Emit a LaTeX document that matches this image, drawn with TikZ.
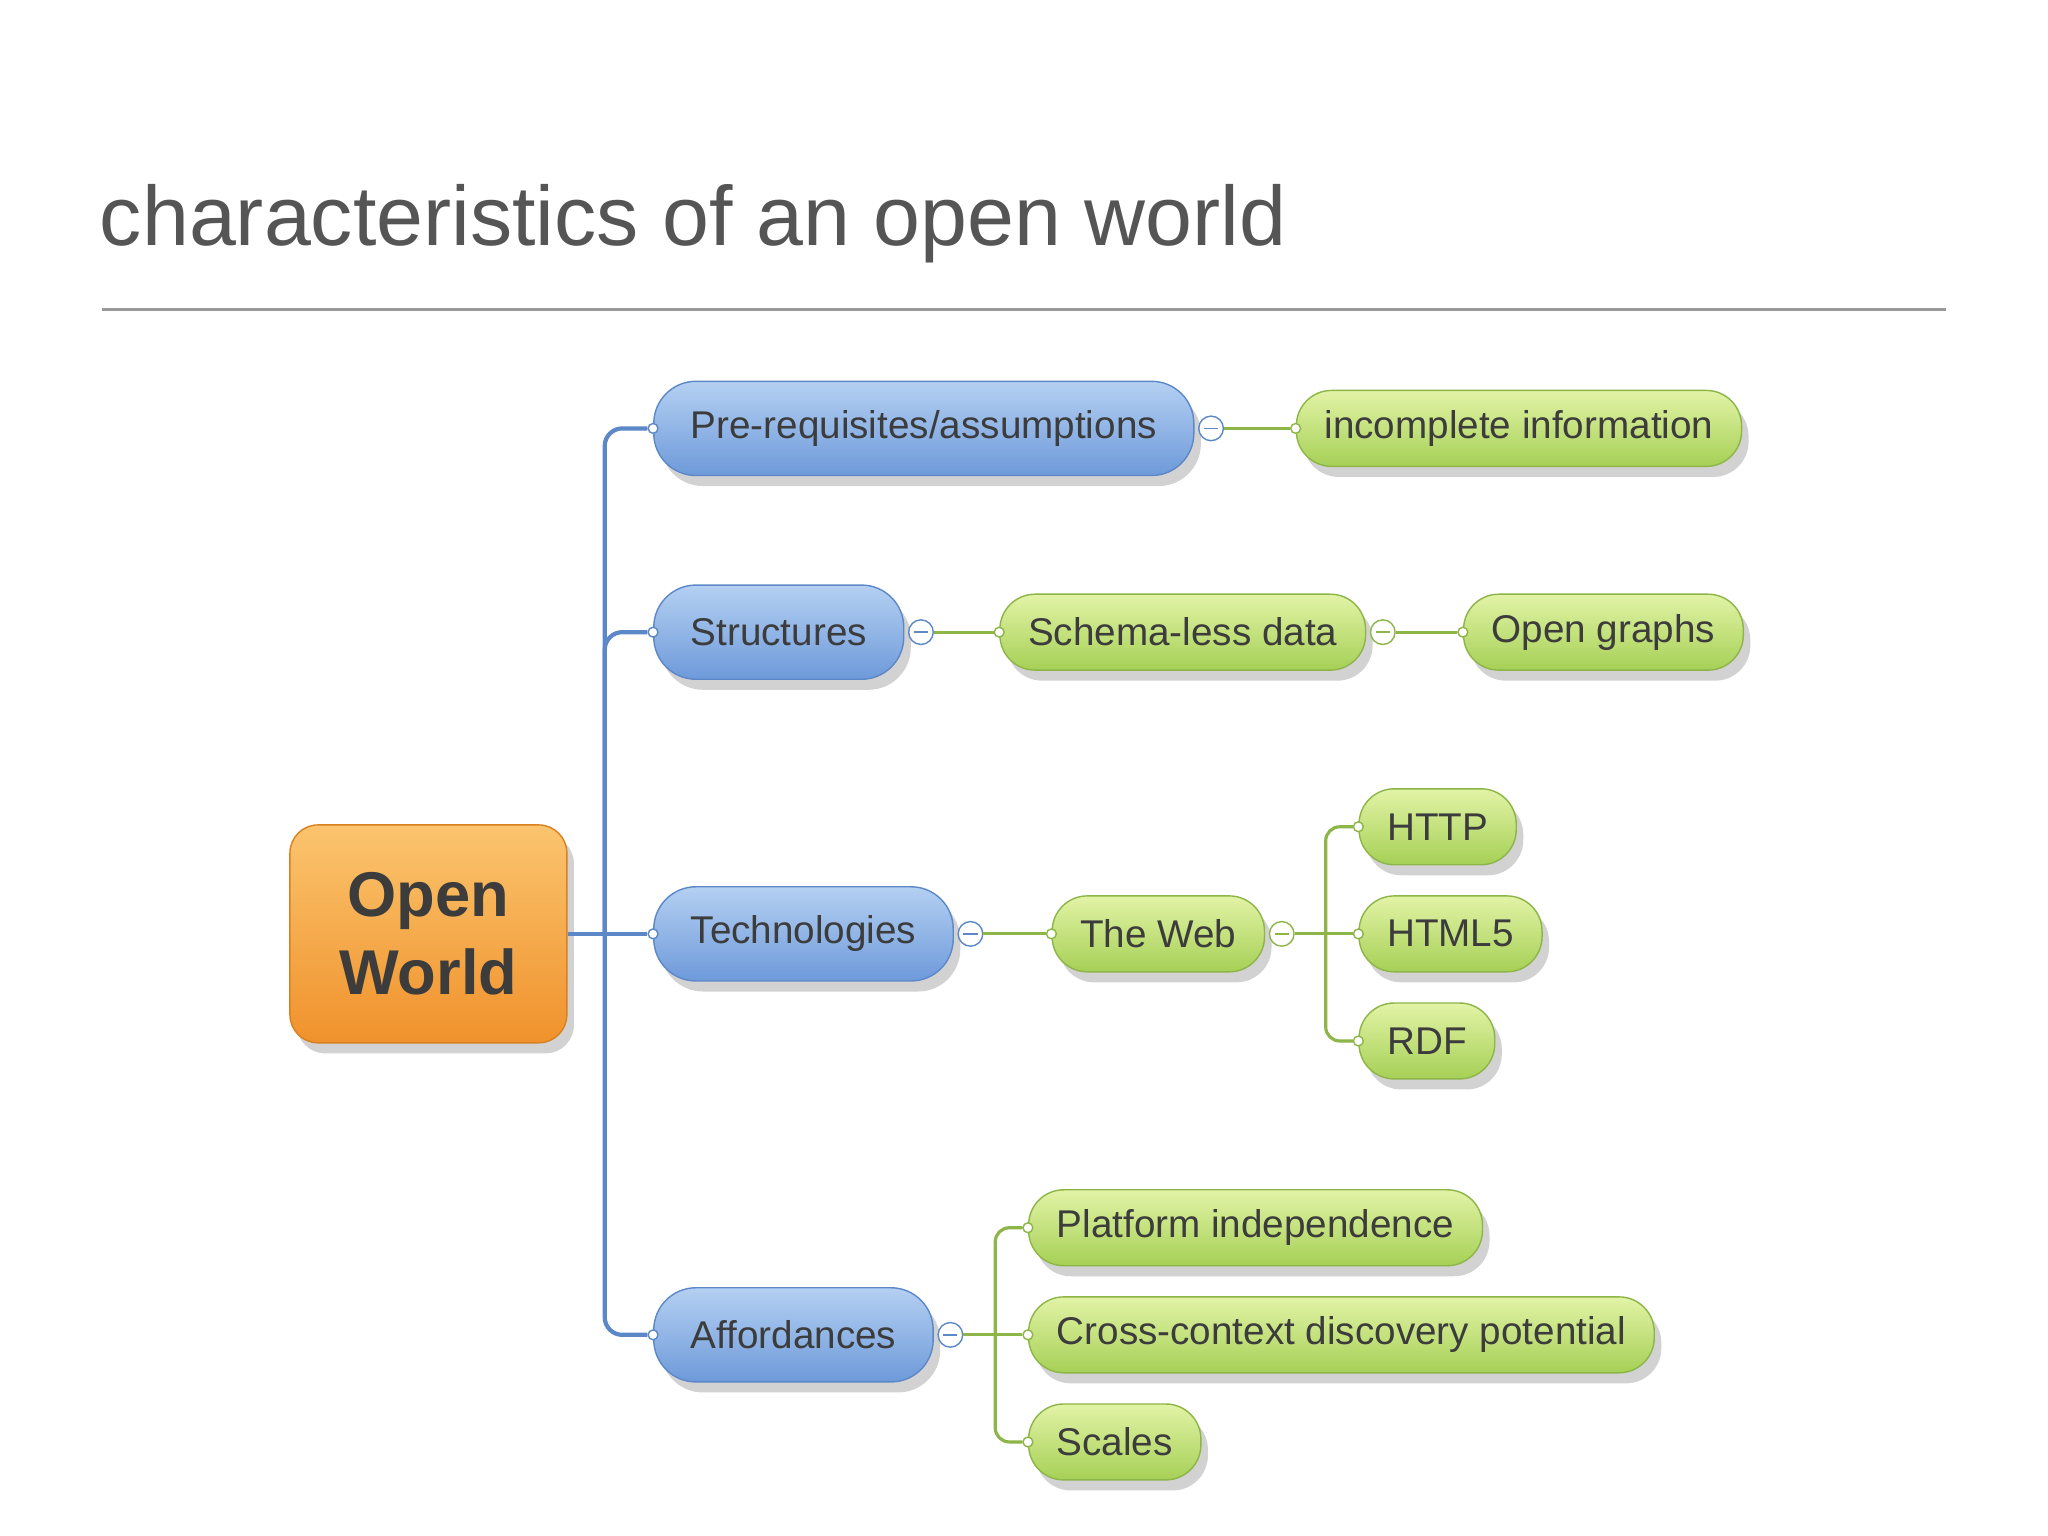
\documentclass[tikz,border=0pt]{standalone}
\usepackage{fontspec}
\setmainfont{Liberation Sans}
\usetikzlibrary{positioning, arrows.meta, shapes, shadows}
\definecolor{txtgray}{HTML}{3C3C3C}
\definecolor{titlegray}{HTML}{555555}
\definecolor{bluetop}{HTML}{B4D0F2}
\definecolor{bluebot}{HTML}{6E9ADA}
\definecolor{blueline}{HTML}{5C88C8}
\definecolor{greentop}{HTML}{E2F3A6}
\definecolor{greenbot}{HTML}{A6D056}
\definecolor{greenline}{HTML}{8DB548}
\definecolor{orangetop}{HTML}{FBC46E}
\definecolor{orangebot}{HTML}{F0922C}
\definecolor{orangeline}{HTML}{D98020}
\tikzset{
  topic/.style={draw=blueline, rounded corners=12pt, top color=bluetop, bottom color=bluebot,
    minimum height=26.8pt, inner xsep=10.5pt, text=txtgray, font=\fontsize{11}{13}\selectfont,
    drop shadow={opacity=0.35, shadow xshift=2pt, shadow yshift=-3pt}},
  leaf/.style={draw=greenline, rounded corners=10pt, top color=greentop, bottom color=greenbot,
    minimum height=21.6pt, inner xsep=8pt, text=txtgray, font=\fontsize{11}{13}\selectfont,
    drop shadow={opacity=0.35, shadow xshift=2pt, shadow yshift=-3pt}},
  fold/.style={circle, draw=#1, fill=white, inner sep=0pt, minimum size=7pt,
    path picture={\draw[#1] ([xshift=-2pt]path picture bounding box.center) -- ([xshift=2pt]path picture bounding box.center);}},
  joint/.style={circle, draw=#1, fill=white, inner sep=0pt, minimum size=2.8pt},
  bluelink/.style={blueline, line width=1.2pt, rounded corners=5pt},
  greenlink/.style={greenline, line width=0.9pt, rounded corners=4pt},
}
\begin{document}
\begin{tikzpicture}[x=0.01306cm, y=-0.01306cm]
  \path[use as bounding box, fill=white] (0,0) rectangle (1568,1176);

  % title
  \node[anchor=base west, inner sep=0pt, text=titlegray, font=\fontsize{24}{27}\selectfont] (title) at (76,188) {characteristics of an open world};
  \draw[gray!80, line width=0.6pt] (78,237) coordinate (rl) -- (1490,237) coordinate (rr);

  % root
  \node[draw=orangeline, rounded corners=8pt, top color=orangetop, bottom color=orangebot,
        minimum width=78.8pt, minimum height=62pt, align=center, text=txtgray,
        font=\fontsize{18}{22}\selectfont\bfseries,
        drop shadow={opacity=0.35, shadow xshift=2pt, shadow yshift=-3pt}] (ow) at (328,715) {Open\\World};

  % topics
  \node[topic, anchor=west] (pre) at (500,328) {Pre-requisites/assumptions};
  \node[topic, anchor=west] (str) at (500,484) {Structures};
  \node[topic, anchor=west] (tec) at (500,715) {Technologies};
  \node[topic, anchor=west] (aff) at (500,1022) {Affordances};

  % leaves
  \node[leaf, anchor=west] (inc) at (992,328) {incomplete information};
  \node[leaf, anchor=west] (sch) at (765,484) {Schema-less data};
  \node[leaf, anchor=west] (ogr) at (1120,484) {Open graphs};
  \node[leaf, anchor=west] (web) at (805,715) {The Web};
  \node[leaf, anchor=west] (htp) at (1040,633) {HTTP};
  \node[leaf, anchor=west] (htm) at (1040,715) {HTML5};
  \node[leaf, anchor=west] (rdf) at (1040,797) {RDF};
  \node[leaf, anchor=west] (plt) at (787,940) {Platform independence};
  \node[leaf, anchor=west] (crs) at (787,1022) {Cross-context discovery potential};
  \node[leaf, anchor=west] (scl) at (787,1104) {Scales};

  % joints
  \foreach \n/\c in {pre/blueline, str/blueline, tec/blueline, aff/blueline,
                     inc/greenline, sch/greenline, ogr/greenline, web/greenline,
                     htp/greenline, htm/greenline, rdf/greenline,
                     plt/greenline, crs/greenline, scl/greenline}
    \node[joint=\c] (j\n) at (\n.west) {};

  % folds
  \node[fold=blueline, right=1pt of pre] (fpre) {};
  \node[fold=blueline, right=1pt of str] (fstr) {};
  \node[fold=greenline, right=1pt of sch] (fsch) {};
  \node[fold=blueline, right=1pt of tec] (ftec) {};
  \node[fold=greenline, right=1pt of web] (fweb) {};
  \node[fold=blueline, right=1pt of aff] (faff) {};

  % root links
  \coordinate (trunk) at (463,715);
  \draw[bluelink] (ow.east) -- (jtec);
  \draw[bluelink] (trunk) |- (jpre);
  \draw[bluelink] (trunk) |- (jstr);
  \draw[bluelink] (trunk) |- (jaff);

  % leaf links
  \draw[greenlink] (fpre) -- (jinc);
  \draw[greenlink] (fstr) -- (jsch);
  \draw[greenlink] (fsch) -- (jogr);
  \draw[greenlink] (ftec) -- (jweb);
  \coordinate (wtr) at (1015,715);
  \draw[greenlink] (fweb) -- (jhtm);
  \draw[greenlink] (wtr) |- (jhtp);
  \draw[greenlink] (wtr) |- (jrdf);
  \coordinate (atr) at (762,1022);
  \draw[greenlink] (faff) -- (jcrs);
  \draw[greenlink] (atr) |- (jplt);
  \draw[greenlink] (atr) |- (jscl);
\end{tikzpicture}
\end{document}
